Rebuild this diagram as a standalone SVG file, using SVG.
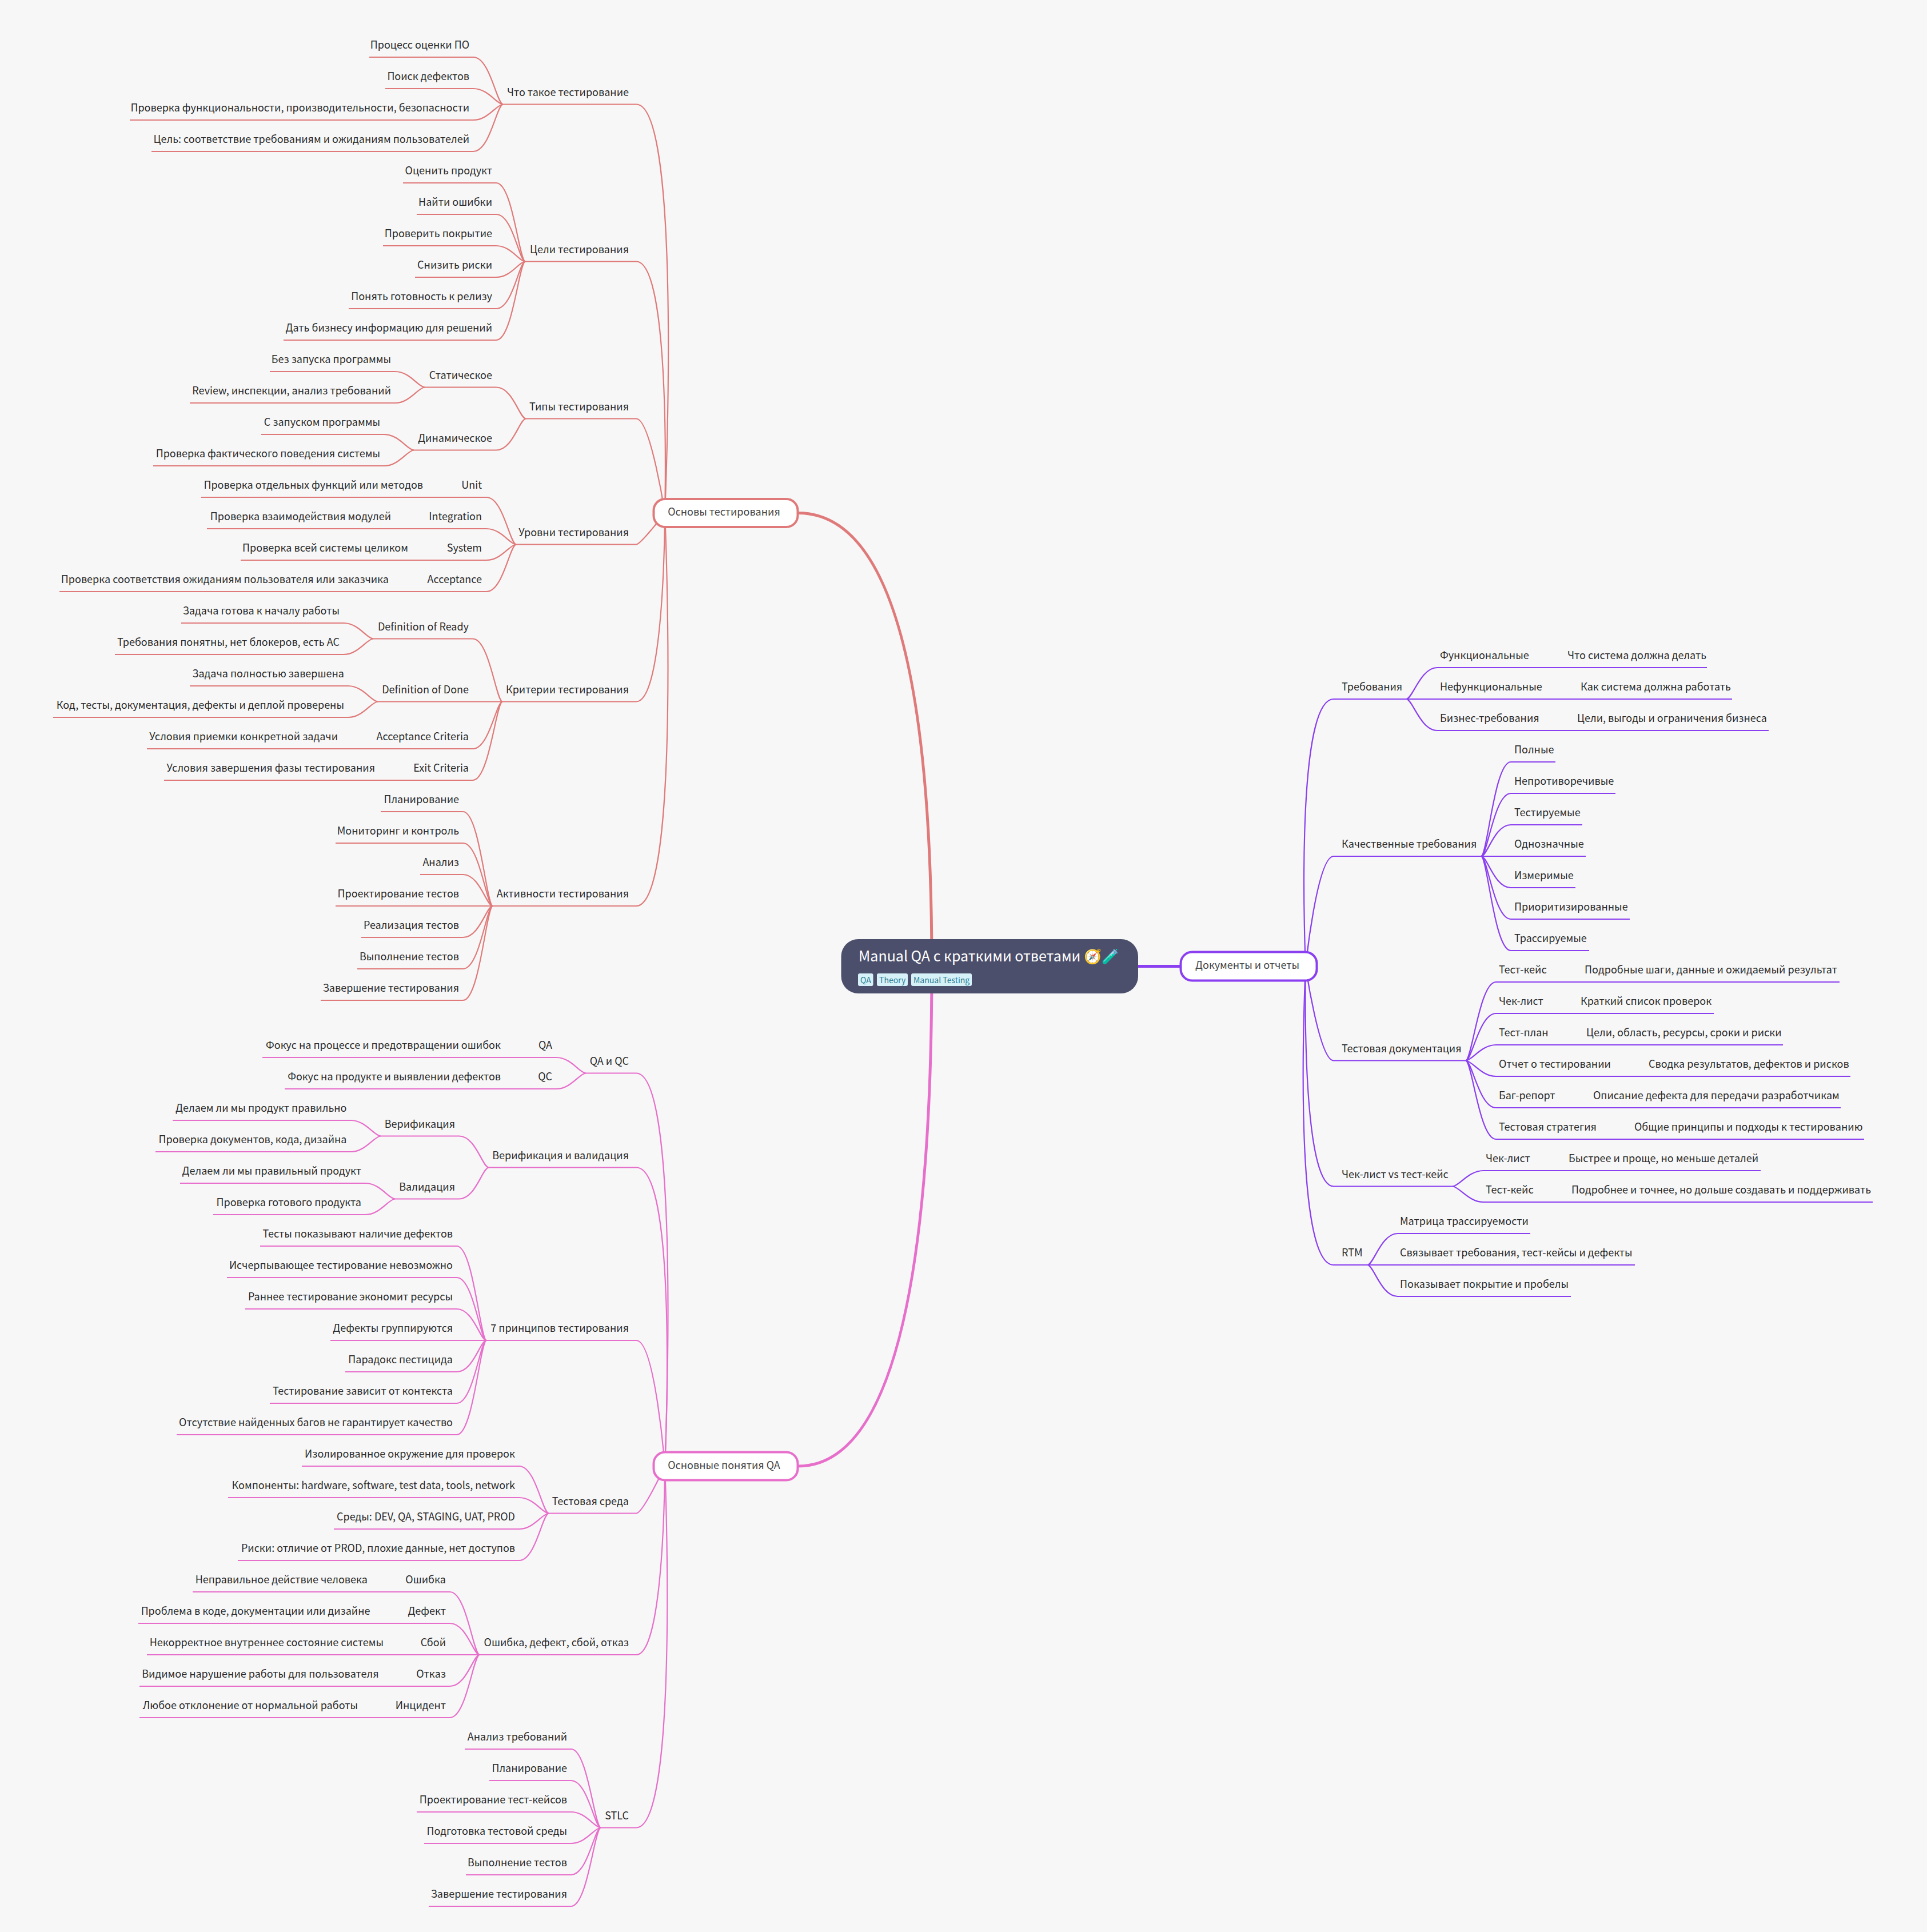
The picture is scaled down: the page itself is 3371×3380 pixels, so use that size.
<svg xmlns="http://www.w3.org/2000/svg" width="3371" height="3380" viewBox="0 0 3371 3380">
<style>
text{font-family:"Noto Sans CJK SC","Noto Sans",sans-serif;font-size:18px;fill:#2b2b2b}
.e{text-anchor:end;transform:translateX(1px)}
.m{fill:#444;text-anchor:middle}
.con path{fill:none;stroke-width:2.2}
.r{stroke:#e07a7a}.p{stroke:#e76fcb}.v{stroke:#8a3ff0}
.con path.t{stroke-width:5}
.box{fill:#fff;stroke-width:4}
.tag{fill:#d6f1f8}
.tt{font-size:14px;fill:#2c7c94}
</style>
<rect width="3371" height="3380" fill="#f7f7f7"/>
<g id="connectors" class="con">
<g class="r">
<path class="t r" d="M1396 897.5Q1630 897.5 1630 1690.5"/>
<path d="M1163 897.5C1163 897.5 1195 182.5 1113 182.5H880"/>
<path d="M1163 897.5C1163 897.5 1175 457.5 1113 457.5H919"/>
<path d="M1163 897.5C1163 897.5 1138 732.5 1113 732.5H920"/>
<path d="M1163 897.5C1163 897.5 1121 952.5 1113 952.5H903"/>
<path d="M1163 897.5C1163 897.5 1163 1227.5 1113 1227.5H879"/>
<path d="M1163 897.5C1163 897.5 1193 1585 1113 1585H862"/>
<path d="M880 182.5C869 182.5 857 100 828 100H646"/>
<path d="M880 182.5C869 182.5 854 155 828 155H674"/>
<path d="M880 182.5C869 182.5 854 210 828 210H227"/>
<path d="M880 182.5C869 182.5 857 265 828 265H265"/>
<path d="M919 457.5C908 457.5 897 320 868 320H705"/>
<path d="M919 457.5C908 457.5 897 375 868 375H729"/>
<path d="M919 457.5C908 457.5 894 430 868 430H670"/>
<path d="M919 457.5C908 457.5 894 485 868 485H726"/>
<path d="M919 457.5C908 457.5 897 540 868 540H610"/>
<path d="M919 457.5C908 457.5 897 595 868 595H496"/>
<path d="M920 732.5C909 732.5 897 677.5 868 677.5H743"/>
<path d="M920 732.5C909 732.5 897 787.5 868 787.5H724"/>
<path d="M743 677.5C732 677.5 717 650 691 650H472"/>
<path d="M743 677.5C732 677.5 717 705 691 705H332"/>
<path d="M724 787.5C713 787.5 698 760 672 760H457"/>
<path d="M724 787.5C713 787.5 698 815 672 815H268"/>
<path d="M903 952.5C892 952.5 880 870 851 870H352"/>
<path d="M903 952.5C892 952.5 877 925 851 925H362"/>
<path d="M903 952.5C892 952.5 877 980 851 980H421"/>
<path d="M903 952.5C892 952.5 880 1035 851 1035H104"/>
<path d="M879 1227.5C868 1227.5 856 1117.5 827 1117.5H653"/>
<path d="M879 1227.5H661"/>
<path d="M879 1227.5C868 1227.5 856 1310 827 1310H257"/>
<path d="M879 1227.5C868 1227.5 856 1365 827 1365H287"/>
<path d="M653 1117.5C642 1117.5 627 1090 601 1090H317"/>
<path d="M653 1117.5C642 1117.5 627 1145 601 1145H201"/>
<path d="M661 1227.5C650 1227.5 635 1200 609 1200H332"/>
<path d="M661 1227.5C650 1227.5 635 1255 609 1255H93"/>
<path d="M862 1585C851 1585 839 1420 810 1420H666"/>
<path d="M862 1585C851 1585 839 1475 810 1475H587"/>
<path d="M862 1585C851 1585 839 1530 810 1530H735"/>
<path d="M862 1585H587"/>
<path d="M862 1585C851 1585 839 1640 810 1640H632"/>
<path d="M862 1585C851 1585 839 1695 810 1695H625"/>
<path d="M862 1585C851 1585 839 1750 810 1750H561"/>
</g>
<g class="p">
<path class="t p" d="M1396 2565Q1630 2565 1630 1690.5"/>
<path d="M1163 2565C1163 2565 1193 1877.5 1113 1877.5H1025"/>
<path d="M1163 2565C1163 2565 1188 2042.5 1113 2042.5H855"/>
<path d="M1163 2565C1163 2565 1146 2345 1113 2345H851"/>
<path d="M1163 2565C1163 2565 1125 2647.5 1113 2647.5H960"/>
<path d="M1163 2565C1163 2565 1163 2895 1113 2895H839"/>
<path d="M1163 2565C1163 2565 1189 3197.5 1113 3197.5H1051"/>
<path d="M1025 1877.5C1014 1877.5 999 1850 973 1850H459"/>
<path d="M1025 1877.5C1014 1877.5 999 1905 973 1905H498"/>
<path d="M855 2042.5C844 2042.5 832 1987.5 803 1987.5H666"/>
<path d="M855 2042.5C844 2042.5 832 2097.5 803 2097.5H691"/>
<path d="M666 1987.5C655 1987.5 639.5 1960 613.5 1960H302"/>
<path d="M666 1987.5C655 1987.5 639.5 2015 613.5 2015H272"/>
<path d="M691 2097.5C680 2097.5 665 2070 639 2070H315"/>
<path d="M691 2097.5C680 2097.5 665 2125 639 2125H373"/>
<path d="M851 2345C840 2345 828 2180 799 2180H455"/>
<path d="M851 2345C840 2345 828 2235 799 2235H397"/>
<path d="M851 2345C840 2345 828 2290 799 2290H429"/>
<path d="M851 2345H578"/>
<path d="M851 2345C840 2345 828 2400 799 2400H604"/>
<path d="M851 2345C840 2345 828 2455 799 2455H472"/>
<path d="M851 2345C840 2345 828 2510 799 2510H309"/>
<path d="M960 2647.5C949 2647.5 937 2565 908 2565H528"/>
<path d="M960 2647.5C949 2647.5 934 2620 908 2620H399"/>
<path d="M960 2647.5C949 2647.5 934 2675 908 2675H584"/>
<path d="M960 2647.5C949 2647.5 937 2730 908 2730H416"/>
<path d="M839 2895C828 2895 816 2785 787 2785H337"/>
<path d="M839 2895C828 2895 816 2840 787 2840H242"/>
<path d="M839 2895H257"/>
<path d="M839 2895C828 2895 816 2950 787 2950H244"/>
<path d="M839 2895C828 2895 816 3005 787 3005H244"/>
<path d="M1051 3197.5C1040 3197.5 1028 3060 999 3060H813"/>
<path d="M1051 3197.5C1040 3197.5 1028 3115 999 3115H856"/>
<path d="M1051 3197.5C1040 3197.5 1025 3170 999 3170H729"/>
<path d="M1051 3197.5C1040 3197.5 1025 3225 999 3225H742"/>
<path d="M1051 3197.5C1040 3197.5 1028 3280 999 3280H815"/>
<path d="M1051 3197.5C1040 3197.5 1028 3335 999 3335H750"/>
</g>
<g class="v">
<path class="t v" d="M1900 1690.5H2065"/>
<path d="M2284 1690.5C2284 1690.5 2263 1223 2333 1223H2460"/>
<path d="M2284 1690.5C2284 1690.5 2304 1498 2333 1498H2591"/>
<path d="M2284 1690.5C2284 1690.5 2308 1855.5 2333 1855.5H2564"/>
<path d="M2284 1690.5C2284 1690.5 2275 2075.5 2333 2075.5H2541"/>
<path d="M2284 1690.5C2284 1690.5 2258 2213 2333 2213H2392"/>
<path d="M2460 1223C2471 1223 2485 1168 2514 1168H2986"/>
<path d="M2460 1223H3030"/>
<path d="M2460 1223C2471 1223 2485 1278 2514 1278H3094"/>
<path d="M2591 1498C2602 1498 2614 1333 2643 1333H2721"/>
<path d="M2591 1498C2602 1498 2614 1388 2643 1388H2826"/>
<path d="M2591 1498C2602 1498 2614 1443 2643 1443H2768"/>
<path d="M2591 1498H2774"/>
<path d="M2591 1498C2602 1498 2614 1553 2643 1553H2756"/>
<path d="M2591 1498C2602 1498 2614 1608 2643 1608H2851"/>
<path d="M2591 1498C2602 1498 2614 1663 2643 1663H2780"/>
<path d="M2564 1855.5C2575 1855.5 2588 1718 2617 1718H3218"/>
<path d="M2564 1855.5C2575 1855.5 2588 1773 2617 1773H2998"/>
<path d="M2564 1855.5C2575 1855.5 2591 1828 2617 1828H3119"/>
<path d="M2564 1855.5C2575 1855.5 2591 1883 2617 1883H3237"/>
<path d="M2564 1855.5C2575 1855.5 2588 1938 2617 1938H3220"/>
<path d="M2564 1855.5C2575 1855.5 2588 1993 2617 1993H3261"/>
<path d="M2541 2075.5C2552 2075.5 2569 2048 2595 2048H3080"/>
<path d="M2541 2075.5C2552 2075.5 2569 2103 2595 2103H3276"/>
<path d="M2392 2213C2403 2213 2416 2158 2445 2158H2677"/>
<path d="M2392 2213H2860"/>
<path d="M2392 2213C2403 2213 2416 2268 2445 2268H2748"/>
</g>
</g>
<g id="root">
<rect x="1471.5" y="1643" width="519.5" height="95" rx="30" fill="#4c4f6b"/>
<text x="1502" y="1682" style="font-size:25px;fill:#fff">Manual QA с краткими ответами 🧭🧪</text>
<rect class="tag" x="1501" y="1703" width="26.5" height="22" rx="3"/><text class="tt" x="1505" y="1720">QA</text>
<rect class="tag" x="1534" y="1703" width="54" height="22" rx="3"/><text class="tt" x="1538" y="1720">Theory</text>
<rect class="tag" x="1594" y="1703" width="106" height="22" rx="3"/><text class="tt" x="1598" y="1720">Manual Testing</text>
</g>
<g id="main1"><rect class="box r" x="1143.5" y="873" width="252" height="49" rx="20"/><text class="m" x="1266.5" y="902">Основы тестирования</text></g>
<g id="main2"><rect class="box p" x="1143.5" y="2540.5" width="252" height="49" rx="20"/><text class="m" x="1266.5" y="2569.5">Основные понятия QA</text></g>
<g id="main3"><rect class="box v" x="2065.5" y="1665.5" width="238" height="50" rx="20"/><text class="m" x="2182" y="1695">Документы и отчеты</text></g>
<g id="t1"><text class="e" x="1099" y="167.5">Что такое тестирование</text></g>
<g id="t1a"><text class="e" x="820" y="85">Процесс оценки ПО</text></g>
<g id="t1b"><text class="e" x="820" y="140">Поиск дефектов</text></g>
<g id="t1c"><text class="e" x="820" y="195">Проверка функциональности, производительности, безопасности</text></g>
<g id="t1d"><text class="e" x="820" y="250">Цель: соответствие требованиям и ожиданиям пользователей</text></g>
<g id="t2"><text class="e" x="1099" y="442.5">Цели тестирования</text></g>
<g id="t2a"><text class="e" x="860" y="305">Оценить продукт</text></g>
<g id="t2b"><text class="e" x="860" y="360">Найти ошибки</text></g>
<g id="t2c"><text class="e" x="860" y="415">Проверить покрытие</text></g>
<g id="t2d"><text class="e" x="860" y="470">Снизить риски</text></g>
<g id="t2e"><text class="e" x="860" y="525">Понять готовность к релизу</text></g>
<g id="t2f"><text class="e" x="860" y="580">Дать бизнесу информацию для решений</text></g>
<g id="t3"><text class="e" x="1099" y="717.5">Типы тестирования</text></g>
<g id="t3a"><text class="e" x="860" y="662.5">Статическое</text></g>
<g id="t3a1"><text class="e" x="683" y="635">Без запуска программы</text></g>
<g id="t3a2"><text class="e" x="683" y="690">Review, инспекции, анализ требований</text></g>
<g id="t3b"><text class="e" x="860" y="772.5">Динамическое</text></g>
<g id="t3b1"><text class="e" x="664" y="745">С запуском программы</text></g>
<g id="t3b2"><text class="e" x="664" y="800">Проверка фактического поведения системы</text></g>
<g id="t4"><text class="e" x="1099" y="937.5">Уровни тестирования</text></g>
<g id="t4a"><text class="e" x="842" y="855">Unit</text></g>
<g id="t4a1"><text class="e" x="739" y="855">Проверка отдельных функций или методов</text></g>
<g id="t4b"><text class="e" x="842" y="910">Integration</text></g>
<g id="t4b1"><text class="e" x="683" y="910">Проверка взаимодействия модулей</text></g>
<g id="t4c"><text class="e" x="842" y="965">System</text></g>
<g id="t4c1"><text class="e" x="713" y="965">Проверка всей системы целиком</text></g>
<g id="t4d"><text class="e" x="842" y="1020">Acceptance</text></g>
<g id="t4d1"><text class="e" x="679" y="1020">Проверка соответствия ожиданиям пользователя или заказчика</text></g>
<g id="t5"><text class="e" x="1099" y="1212.5">Критерии тестирования</text></g>
<g id="t5a"><text class="e" x="819" y="1102.5">Definition of Ready</text></g>
<g id="t5a1"><text class="e" x="593" y="1075">Задача готова к началу работы</text></g>
<g id="t5a2"><text class="e" x="593" y="1130">Требования понятны, нет блокеров, есть AC</text></g>
<g id="t5b"><text class="e" x="819" y="1212.5">Definition of Done</text></g>
<g id="t5b1"><text class="e" x="601" y="1185">Задача полностью завершена</text></g>
<g id="t5b2"><text class="e" x="601" y="1240">Код, тесты, документация, дефекты и деплой проверены</text></g>
<g id="t5c"><text class="e" x="819" y="1295">Acceptance Criteria</text></g>
<g id="t5c1"><text class="e" x="590" y="1295">Условия приемки конкретной задачи</text></g>
<g id="t5d"><text class="e" x="819" y="1350">Exit Criteria</text></g>
<g id="t5d1"><text class="e" x="655" y="1350">Условия завершения фазы тестирования</text></g>
<g id="t6"><text class="e" x="1099" y="1570">Активности тестирования</text></g>
<g id="t6a"><text class="e" x="802" y="1405">Планирование</text></g>
<g id="t6b"><text class="e" x="802" y="1460">Мониторинг и контроль</text></g>
<g id="t6c"><text class="e" x="802" y="1515">Анализ</text></g>
<g id="t6d"><text class="e" x="802" y="1570">Проектирование тестов</text></g>
<g id="t6e"><text class="e" x="802" y="1625">Реализация тестов</text></g>
<g id="t6f"><text class="e" x="802" y="1680">Выполнение тестов</text></g>
<g id="t6g"><text class="e" x="802" y="1735">Завершение тестирования</text></g>
<g id="b1"><text class="e" x="1099" y="1862.5">QA и QC</text></g>
<g id="b1a"><text class="e" x="965" y="1835">QA</text></g>
<g id="b1a1"><text class="e" x="875" y="1835">Фокус на процессе и предотвращении ошибок</text></g>
<g id="b1b"><text class="e" x="965" y="1890">QC</text></g>
<g id="b1b1"><text class="e" x="875" y="1890">Фокус на продукте и выявлении дефектов</text></g>
<g id="b2"><text class="e" x="1099" y="2027.5">Верификация и валидация</text></g>
<g id="b2a"><text class="e" x="795" y="1972.5">Верификация</text></g>
<g id="b2a1"><text class="e" x="605.5" y="1945">Делаем ли мы продукт правильно</text></g>
<g id="b2a2"><text class="e" x="605.5" y="2000">Проверка документов, кода, дизайна</text></g>
<g id="b2b"><text class="e" x="795" y="2082.5">Валидация</text></g>
<g id="b2b1"><text class="e" x="631" y="2055">Делаем ли мы правильный продукт</text></g>
<g id="b2b2"><text class="e" x="631" y="2110">Проверка готового продукта</text></g>
<g id="b3"><text class="e" x="1099" y="2330">7 принципов тестирования</text></g>
<g id="b3a"><text class="e" x="791" y="2165">Тесты показывают наличие дефектов</text></g>
<g id="b3b"><text class="e" x="791" y="2220">Исчерпывающее тестирование невозможно</text></g>
<g id="b3c"><text class="e" x="791" y="2275">Раннее тестирование экономит ресурсы</text></g>
<g id="b3d"><text class="e" x="791" y="2330">Дефекты группируются</text></g>
<g id="b3e"><text class="e" x="791" y="2385">Парадокс пестицида</text></g>
<g id="b3f"><text class="e" x="791" y="2440">Тестирование зависит от контекста</text></g>
<g id="b3g"><text class="e" x="791" y="2495">Отсутствие найденных багов не гарантирует качество</text></g>
<g id="b4"><text class="e" x="1099" y="2632.5">Тестовая среда</text></g>
<g id="b4a"><text class="e" x="900" y="2550">Изолированное окружение для проверок</text></g>
<g id="b4b"><text class="e" x="900" y="2605">Компоненты: hardware, software, test data, tools, network</text></g>
<g id="b4c"><text class="e" x="900" y="2660">Среды: DEV, QA, STAGING, UAT, PROD</text></g>
<g id="b4d"><text class="e" x="900" y="2715">Риски: отличие от PROD, плохие данные, нет доступов</text></g>
<g id="b5"><text class="e" x="1099" y="2880">Ошибка, дефект, сбой, отказ</text></g>
<g id="b5a"><text class="e" x="779" y="2770">Ошибка</text></g>
<g id="b5a1"><text class="e" x="642" y="2770">Неправильное действие человека</text></g>
<g id="b5b"><text class="e" x="779" y="2825">Дефект</text></g>
<g id="b5b1"><text class="e" x="646.5" y="2825">Проблема в коде, документации или дизайне</text></g>
<g id="b5c"><text class="e" x="779" y="2880">Сбой</text></g>
<g id="b5c1"><text class="e" x="670" y="2880">Некорректное внутреннее состояние системы</text></g>
<g id="b5d"><text class="e" x="779" y="2935">Отказ</text></g>
<g id="b5d1"><text class="e" x="661.5" y="2935">Видимое нарушение работы для пользователя</text></g>
<g id="b5e"><text class="e" x="779" y="2990">Инцидент</text></g>
<g id="b5e1"><text class="e" x="625" y="2990">Любое отклонение от нормальной работы</text></g>
<g id="b6"><text class="e" x="1099" y="3182.5">STLC</text></g>
<g id="b6a"><text class="e" x="991" y="3045">Анализ требований</text></g>
<g id="b6b"><text class="e" x="991" y="3100">Планирование</text></g>
<g id="b6c"><text class="e" x="991" y="3155">Проектирование тест-кейсов</text></g>
<g id="b6d"><text class="e" x="991" y="3210">Подготовка тестовой среды</text></g>
<g id="b6e"><text class="e" x="991" y="3265">Выполнение тестов</text></g>
<g id="b6f"><text class="e" x="991" y="3320">Завершение тестирования</text></g>
<g id="d1"><text x="2347" y="1208">Требования</text></g>
<g id="d1a"><text x="2519" y="1153">Функциональные</text></g>
<g id="d1a1"><text x="2742" y="1153">Что система должна делать</text></g>
<g id="d1b"><text x="2519" y="1208">Нефункциональные</text></g>
<g id="d1b1"><text x="2765" y="1208">Как система должна работать</text></g>
<g id="d1c"><text x="2519" y="1263">Бизнес-требования</text></g>
<g id="d1c1"><text x="2759" y="1263">Цели, выгоды и ограничения бизнеса</text></g>
<g id="d2"><text x="2347" y="1483">Качественные требования</text></g>
<g id="d2a"><text x="2649" y="1318">Полные</text></g>
<g id="d2b"><text x="2649" y="1373">Непротиворечивые</text></g>
<g id="d2c"><text x="2649" y="1428">Тестируемые</text></g>
<g id="d2d"><text x="2649" y="1483">Однозначные</text></g>
<g id="d2e"><text x="2649" y="1538">Измеримые</text></g>
<g id="d2f"><text x="2649" y="1593">Приоритизированные</text></g>
<g id="d2g"><text x="2649" y="1648">Трассируемые</text></g>
<g id="d3"><text x="2347" y="1840.5">Тестовая документация</text></g>
<g id="d3a"><text x="2622" y="1703">Тест-кейс</text></g>
<g id="d3a1"><text x="2772" y="1703">Подробные шаги, данные и ожидаемый результат</text></g>
<g id="d3b"><text x="2622" y="1758">Чек-лист</text></g>
<g id="d3b1"><text x="2765" y="1758">Краткий список проверок</text></g>
<g id="d3c"><text x="2622" y="1813">Тест-план</text></g>
<g id="d3c1"><text x="2775" y="1813">Цели, область, ресурсы, сроки и риски</text></g>
<g id="d3d"><text x="2622" y="1868">Отчет о тестировании</text></g>
<g id="d3d1"><text x="2884" y="1868">Сводка результатов, дефектов и рисков</text></g>
<g id="d3e"><text x="2622" y="1923">Баг-репорт</text></g>
<g id="d3e1"><text x="2787" y="1923">Описание дефекта для передачи разработчикам</text></g>
<g id="d3f"><text x="2622" y="1978">Тестовая стратегия</text></g>
<g id="d3f1"><text x="2859" y="1978">Общие принципы и подходы к тестированию</text></g>
<g id="d4"><text x="2347" y="2060.5">Чек-лист vs тест-кейс</text></g>
<g id="d4a"><text x="2599" y="2033">Чек-лист</text></g>
<g id="d4a1"><text x="2744" y="2033">Быстрее и проще, но меньше деталей</text></g>
<g id="d4b"><text x="2599" y="2088">Тест-кейс</text></g>
<g id="d4b1"><text x="2749" y="2088">Подробнее и точнее, но дольше создавать и поддерживать</text></g>
<g id="d5"><text x="2347" y="2198">RTM</text></g>
<g id="d5a"><text x="2449" y="2143">Матрица трассируемости</text></g>
<g id="d5b"><text x="2449" y="2198">Связывает требования, тест-кейсы и дефекты</text></g>
<g id="d5c"><text x="2449" y="2253">Показывает покрытие и пробелы</text></g>
</svg>
